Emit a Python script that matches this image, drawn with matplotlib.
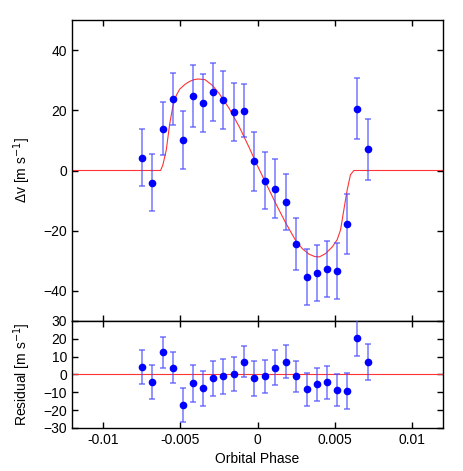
import matplotlib
matplotlib.use("Agg")
import matplotlib.pyplot as plt

plt.rcParams["font.family"] = ["Liberation Sans", "DejaVu Sans"]
plt.rcParams["font.size"] = 10

# RV measurements through transit
phase = [-0.00747, -0.0068, -0.00614, -0.00547, -0.00483, -0.00416, -0.00352,
         -0.00285, -0.00221, -0.00155, -0.00088, -0.00021, 0.00045, 0.00112,
         0.00187, 0.00251, 0.00318, 0.00382, 0.00449, 0.00515, 0.0058,
         0.00646, 0.00713]
dv = [4.3, -4.1, 13.8, 23.8, 10.2, 24.8, 22.4, 26.0, 23.5, 19.4, 19.9, 3.0,
      -3.4, -6.1, -10.5, -24.3, -35.4, -34.1, -32.8, -33.4, -17.7, 20.6, 7.1]
dv_err = [9.6, 9.5, 8.8, 8.7, 9.6, 10.2, 9.6, 9.6, 9.6, 9.6, 8.8, 9.8, 9.5,
          9.8, 9.3, 8.6, 9.4, 9.2, 9.3, 9.2, 9.9, 10.2, 10.1]
resid = [4.3, -4.1, 12.4, 3.9, -17.2, -5.0, -7.8, -2.2, -1.1, 0.4, 7.2, -2.2,
         -1.1, 3.9, 7.2, -1.1, -8.3, -5.4, -4.3, -8.7, -9.3, 20.4, 7.2]

# model curve
model_phase = [-0.012, -0.00627, -0.00612, -0.0059, -0.00569, -0.00547,
               -0.00525, -0.00504, -0.0047, -0.0044, -0.0041, -0.00386,
               -0.0034, -0.0029, -0.00247, -0.00182, -0.00118, -0.00053, 0.0,
               0.00054, 0.00118, 0.00183, 0.00247, 0.0029, 0.00333, 0.0037,
               0.004, 0.0044, 0.00483, 0.00515, 0.00537, 0.00558, 0.0058,
               0.00601, 0.00623, 0.012]
model_dv = [0, 0, 1.9, 6.9, 15.2, 21.5, 25.0, 27.0, 28.6, 29.6, 30.2, 30.4,
            30.2, 28.2, 25.5, 20.5, 14.5, 7.5, 1.5, -4.2, -11.0, -17.5, -23.3,
            -26.0, -27.8, -28.6, -28.7, -27.6, -25.4, -23.0, -19.7, -13.1,
            -6.4, -1.4, 0, 0]

xticks = [-0.01, -0.005, 0, 0.005, 0.01]
xticklabels = ["-0.01", "-0.005", "0", "0.005", "0.01"]

fig = plt.figure(figsize=(4.63, 4.71), dpi=100)
ax = fig.add_axes([0.1555, 0.3185, 0.8015, 0.639])
axr = fig.add_axes([0.1555, 0.0913, 0.8015, 0.2272])

err_kw = dict(fmt="o", color="blue", ms=4.5, ecolor=(0.3, 0.3, 1.0, 0.7),
              elinewidth=1.2, capsize=2.5, capthick=1.2, zorder=3)

ax.plot(model_phase, model_dv, color=(1.0, 0.2, 0.2), lw=0.8, zorder=2)
ax.errorbar(phase, dv, yerr=dv_err, **err_kw)
ax.set_xlim(-0.012, 0.012)
ax.set_ylim(-50, 50)
ax.set_yticks([-40, -20, 0, 20, 40])
ax.set_xticks(xticks)
ax.set_xticklabels([])
ax.set_ylabel("Δv [m s$^{-1}$]")

axr.axhline(0, color=(1.0, 0.2, 0.2), lw=0.8, zorder=2)
axr.errorbar(phase, resid, yerr=dv_err, **err_kw)
axr.set_xlim(-0.012, 0.012)
axr.set_ylim(-30, 30)
axr.set_yticks([-30, -20, -10, 0, 10, 20, 30])
axr.set_xticks(xticks)
axr.set_xticklabels(xticklabels)
axr.set_xlabel("Orbital Phase")
axr.set_ylabel("Residual [m s$^{-1}$]")

for a in (ax, axr):
    a.tick_params(direction="in", top=True, right=True, length=4.5, width=1)
    for s in a.spines.values():
        s.set_linewidth(1)
    a.yaxis.set_label_coords(-0.105, 0.5)

fig.savefig("out.png", dpi=100)
plt.close(fig)
